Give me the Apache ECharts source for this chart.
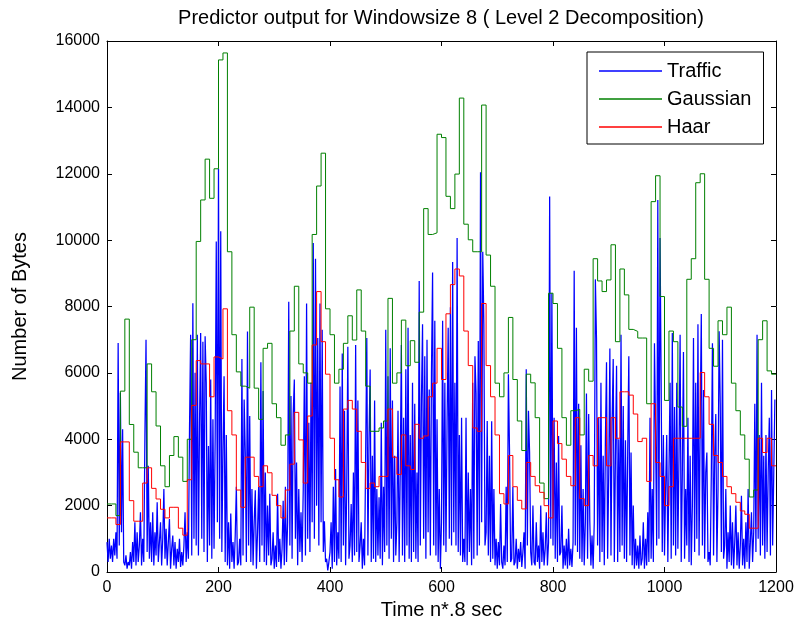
<!DOCTYPE html>
<html>
<head>
<meta charset="utf-8">
<script src="https://cdn.jsdelivr.net/npm/echarts@6/dist/echarts.min.js"></script>
<style>html,body{margin:0;padding:0;background:#fff}#c{width:799px;height:628px}</style>
</head>
<body>
<div id="c"></div>
<script>
// ---- data ----
const TITLE = 'Predictor output for Windowsize 8 ( Level 2 Decomposition)';
const X_NAME = 'Time n*.8 sec';
const Y_NAME = 'Number of Bytes';
const SERIES_NAMES = ['Traffic', 'Gaussian', 'Haar'];
const X_RANGE = [0, 1200, 200];
const Y_RANGE = [0, 16000, 2000];
const TRAFFIC_STEP = 2;   // samples per traffic value
const WINDOW = 8;         // samples per predictor value

const traffic = [
  900,300,1000,400,800,300,1000,500,1200,400,6900,800,5400,1200,4300,300,200,500,100,300,
  200,600,100,900,300,1500,200,1200,300,800,1800,200,1000,300,4100,7000,600,3200,400,1500,
  300,1800,200,1200,500,2100,300,900,1500,200,1000,2500,400,1300,200,900,1600,100,700,1100,
  200,900,100,700,300,1000,150,600,200,800,1800,300,1200,400,4300,7150,500,8100,1000,6000,
  800,7150,500,4500,7200,1000,6940,600,7100,5700,300,3800,800,5800,400,4600,700,4000,9960,1500,
  12150,1000,10270,600,3600,5900,300,4130,200,1500,100,1760,300,900,100,1100,2570,200,300,1000,
  200,6420,500,5200,3600,300,7250,800,4700,300,2500,200,1500,2460,100,1200,2570,300,6320,800,
  5450,300,3000,200,2000,500,2360,200,400,1200,100,800,150,2360,300,1000,100,700,2150,200,
  2570,300,1500,8140,800,5300,400,4760,5800,1000,3300,200,2500,600,1800,300,2500,5900,500,8090,
  1000,4500,600,5700,1500,9910,1000,9440,2000,7050,800,8090,1500,7300,600,1530,300,400,50,300,
  600,1500,100,2570,300,3100,200,1200,400,5590,300,6580,800,4860,200,2500,6790,400,800,2050,
  300,3000,500,6840,600,5170,300,800,1500,100,1000,200,3600,7050,500,4000,6100,300,3500,400,
  5170,300,2500,500,2250,400,4500,200,2570,600,7300,800,5900,400,6740,1000,5170,300,3500,500,
  1500,4860,300,3000,6840,500,4650,300,6110,800,7360,400,4130,300,5700,600,5070,400,3000,300,
  8765,800,5170,7464,1000,6500,400,7000,1200,5500,500,6000,9026,800,7570,500,4600,300,2500,100,
  1500,7570,800,5700,600,4500,7360,1000,7980,800,9340,1200,5700,800,10066,600,4130,500,4650,300,
  1000,300,4650,200,3000,600,2500,200,5700,400,6500,5380,500,6964,800,12045,1500,9650,7464,800,
  1200,4550,500,3500,300,4540,400,2500,200,1000,100,900,200,2050,300,100,800,200,2570,300,
  5955,3660,300,400,2570,200,300,1000,100,700,300,900,150,600,1200,100,6110,800,4860,3600,
  600,200,2000,300,200,1500,300,800,100,2000,300,1200,200,700,1800,200,900,11316,1000,8400,
  800,4650,400,3300,300,4100,500,600,2000,100,800,200,1000,100,1300,200,700,150,900,9077,
  800,7360,600,5070,400,3820,300,2500,200,1500,5380,400,4760,1530,200,1100,100,1500,8817,7050,
  800,4650,300,5700,600,3500,200,4000,6320,400,3000,6735,500,4500,6420,300,3500,6215,300,4000,
  600,7152,800,5000,400,3970,300,3600,6500,500,3600,200,2000,100,1000,200,800,100,1100,200,
  400,1500,100,1000,200,1800,300,4650,400,2500,300,6890,4230,800,11212,1000,10066,5700,600,4130,
  500,2500,4130,300,3000,5700,400,7204,800,4970,500,5700,700,3500,7150,300,3000,6630,400,2500,
  800,4650,300,3500,200,2000,7048,600,5700,1000,7464,500,4500,7776,800,5486,400,3000,3600,300,
  600,200,3000,6890,500,3500,4760,300,2500,7256,5070,600,7000,400,800,2500,100,1200,300,2000,
  200,1500,100,900,2000,200,1200,100,800,2300,200,1000,100,1500,300,2500,100,900,1800,300,
  1200,5070,600,7150,1000,4130,500,5700,800,3500,400,4130,600,3000,4650,500,5486,800,3000,5200
];

const gaussian = [
  2050,2050,1700,5450,7620,4445,3610,3140,3140,6270,
  5430,4400,3200,2570,3510,4080,3460,2730,4000,7000,
  9960,11210,12440,11260,12150,15430,15640,9650,7150,6030,
  5600,5540,7980,5540,4600,6740,6890,5070,4650,3820,
  4130,7260,8610,6270,6000,5690,10170,11630,12620,7930,
  7150,5690,6110,6890,7720,6990,8500,7260,5600,4240,
  4240,4340,4550,8245,5690,6000,7590,6215,6970,6320,
  7830,10950,10170,10220,13190,13090,11320,10950,11990,14280,
  10480,10010,9650,9650,14070,9550,8610,5690,5280,6000,
  7670,5800,4550,3660,5960,5700,4650,2680,2210,8400,
  8090,6740,4650,3820,4860,4900,4130,6110,5750,9440,
  8770,8450,8800,9860,6940,9130,8350,7310,7250,7050,
  7050,5070,11160,11940,8300,5170,7260,6940,4970,4390,
  8820,9440,11730,12000,8820,6740,6200,7570,7150,7980,
  5690,4860,4130,3400,2260,2470,7000,7570,6060,5960
];

const haar = [
  1630,1630,1430,3920,3920,2150,1530,1530,2680,3140,
  2520,2200,1890,1630,1950,1950,1320,1110,2780,5020,
  6370,6270,6270,5280,6480,6420,7930,4860,4130,2470,
  1950,3460,3460,2880,2570,3200,2990,2310,2000,1630,
  2470,3250,4810,3980,2680,4700,6840,8450,6940,5960,
  4030,2780,2260,4910,5170,4910,4240,3300,2520,2680,
  2570,2880,2880,4910,3460,2940,4130,3200,3090,4450,
  4030,4100,5280,5690,6740,5800,7780,8660,9130,8920,
  7260,6220,4340,4240,8090,6220,5280,4130,2360,2050,
  3510,2570,2160,1900,3300,2880,2600,2400,2000,1630,
  4550,3870,3400,2880,2600,4650,2210,2000,3510,3200,
  4650,4650,3200,4650,4030,5430,5430,5330,4760,3930,
  4030,2730,5070,3300,2880,2000,2570,4030,4030,4030,
  4030,4030,4030,6010,5280,4450,3510,3300,2880,2570,
  2360,2100,1840,1740,1320,1320,4030,3600,4030,3200
];

// ---- build ----
const FONT = "'Liberation Sans', Arial, sans-serif";
const tData = traffic.map((v, i) => [i * TRAFFIC_STEP, v]);
function stepData(arr) {
  const d = arr.map((v, i) => [i * WINDOW, v]);
  d.push([X_RANGE[1], arr[arr.length - 1]]);
  return d;
}
const gData = stepData(gaussian);
const hData = stepData(haar);

const axisLine = { show: true, onZero: false, lineStyle: { color: '#000', width: 1 } };
const axisTick = { show: true, inside: true, length: 5, lineStyle: { color: '#000', width: 1 } };
const plain = v => String(v);

const chart = echarts.init(document.getElementById('c'), null, { renderer: 'canvas' });
chart.setOption({
  animation: false,
  backgroundColor: '#fff',
  textStyle: { fontFamily: FONT },
  graphic: [{
    type: 'text', x: 441, y: 18,
    style: { text: TITLE, align: 'center', verticalAlign: 'middle', fontSize: 20, fontFamily: FONT, fill: '#000' }
  }],
  grid: { left: 107, right: 23, top: 41, bottom: 56, containLabel: false },
  legend: {
    data: SERIES_NAMES, orient: 'vertical', left: 587, top: 52,
    icon: 'rect', itemWidth: 63, itemHeight: 1.5, itemGap: 8,
    padding: [9, 12, 7, 12], borderColor: '#000', borderWidth: 1, backgroundColor: '#fff',
    selectedMode: false,
    textStyle: { fontSize: 20, color: '#000', fontFamily: FONT, lineHeight: 20 }
  },
  xAxis: [
    { type: 'value', min: X_RANGE[0], max: X_RANGE[1], interval: X_RANGE[2], position: 'bottom',
      axisLine, axisTick, splitLine: { show: false },
      axisLabel: { color: '#000', fontSize: 16, margin: 8, fontFamily: FONT, formatter: plain },
      name: X_NAME, nameLocation: 'middle', nameGap: 28,
      nameTextStyle: { color: '#000', fontSize: 20, fontFamily: FONT } },
    { type: 'value', min: X_RANGE[0], max: X_RANGE[1], interval: X_RANGE[2], position: 'top',
      axisLine, axisTick, splitLine: { show: false }, axisLabel: { show: false } }
  ],
  yAxis: [
    { type: 'value', min: Y_RANGE[0], max: Y_RANGE[1], interval: Y_RANGE[2], position: 'left',
      axisLine, axisTick, splitLine: { show: false },
      axisLabel: { color: '#000', fontSize: 16, margin: 7, fontFamily: FONT, formatter: plain },
      name: Y_NAME, nameLocation: 'middle', nameGap: 77, nameRotate: 90,
      nameTextStyle: { color: '#000', fontSize: 20, fontFamily: FONT } },
    { type: 'value', min: Y_RANGE[0], max: Y_RANGE[1], interval: Y_RANGE[2], position: 'right',
      axisLine, axisTick, splitLine: { show: false }, axisLabel: { show: false } }
  ],
  series: [
    { name: 'Traffic', type: 'line', data: tData, showSymbol: false, symbol: 'none',
      lineStyle: { color: '#0000ff', width: 1.25 }, itemStyle: { color: '#0000ff' } },
    { name: 'Gaussian', type: 'line', step: 'end', data: gData, showSymbol: false, symbol: 'none',
      lineStyle: { color: '#008000', width: 1 }, itemStyle: { color: '#008000' } },
    { name: 'Haar', type: 'line', step: 'end', data: hData, showSymbol: false, symbol: 'none',
      lineStyle: { color: '#ff0000', width: 1 }, itemStyle: { color: '#ff0000' } }
  ]
});
</script>
</body>
</html>
